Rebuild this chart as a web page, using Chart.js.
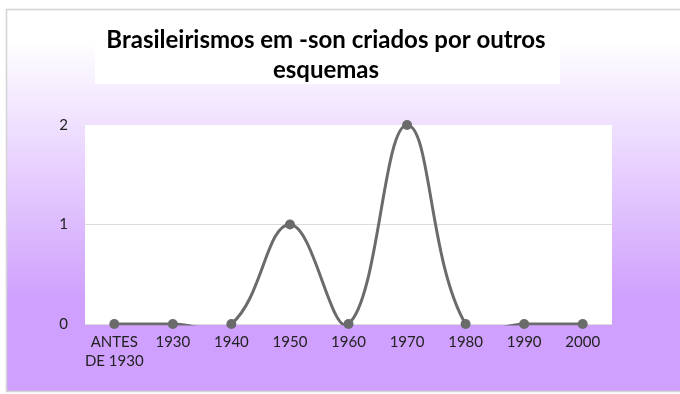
<!DOCTYPE html>
<html>
<head>
<meta charset="utf-8">
<script src="https://cdn.jsdelivr.net/npm/chart.js@4/dist/chart.umd.min.js"></script>
<style>
  html, body { margin: 0; padding: 0; background: #ffffff; }
  #wrap { width: 680px; height: 394px; position: relative; }
</style>
</head>
<body>
<div id="wrap"><canvas id="c" width="680" height="394"></canvas></div>
<script>
// Decades and the number of brasileirismos created by other schemes
const categories = [["ANTES", "DE 1930"], "1930", "1940", "1950", "1960", "1970", "1980", "1990", "2000"];
const counts = [0, 0, 0, 1, 0, 2, 0, 0, 0];
const yTicks = [0, 1, 2];
const titleLines = ["Brasileirismos em -son criados por outros", "esquemas"];

const LINE = '#6b6b6b';
const FONT = 'Lato, "Open Sans", sans-serif';

// Frame, gradient backdrop, title box and white plot area
const backdrop = {
  id: 'backdrop',
  beforeDraw(chart) {
    const { ctx, chartArea: a } = chart;
    ctx.save();
    const g = ctx.createLinearGradient(0, 40, 0, 300);
    g.addColorStop(0, '#ffffff');
    g.addColorStop(1, '#cfa0fd');
    ctx.fillStyle = g;
    ctx.fillRect(7, 10, 690, 381);
    ctx.strokeStyle = '#d4d4d4';
    ctx.lineWidth = 1.5;
    ctx.strokeRect(6.5, 9.5, 690, 382);

    ctx.fillStyle = '#ffffff';
    ctx.fillRect(95, 21, 465, 63);
    ctx.fillStyle = '#000000';
    ctx.font = 'bold 24px ' + FONT;
    ctx.textAlign = 'center';
    ctx.textBaseline = 'middle';
    ctx.fillText(titleLines[0], 326, 40);
    ctx.fillText(titleLines[1], 326, 70);

    ctx.fillStyle = '#ffffff';
    ctx.fillRect(a.left, a.top, a.right - a.left, a.bottom - a.top);
    ctx.restore();
  }
};

new Chart(document.getElementById('c'), {
  type: 'line',
  data: {
    labels: categories,
    datasets: [
      {
        data: counts,
        borderColor: LINE,
        borderWidth: 3,
        tension: 0.4,
        capBezierPoints: false,
        pointRadius: 0,
        pointHoverRadius: 0,
        clip: { left: 10, right: 10, top: 10, bottom: 1.5 }
      },
      {
        data: counts,
        showLine: false,
        pointRadius: 5,
        pointBackgroundColor: LINE,
        pointBorderColor: LINE,
        pointBorderWidth: 0,
        clip: false
      }
    ]
  },
  options: {
    responsive: false,
    animation: false,
    events: [],
    elements: { line: { capBezierPoints: false } },
    layout: { padding: { left: 0, right: 68, top: 125, bottom: 0 } },
    plugins: { legend: { display: false }, tooltip: { enabled: false }, title: { display: false } },
    scales: {
      x: {
        offset: true,
        grid: { display: false, drawTicks: false },
        border: { display: false },
        ticks: {
          color: '#222222',
          padding: 8,
          maxRotation: 0,
          autoSkip: false,
          font: { family: FONT, size: 15, lineHeight: 1.3 }
        },
        afterFit(s) { s.height = 70; }
      },
      y: {
        min: 0,
        max: 2,
        grid: {
          drawTicks: false,
          color: (c) => (c.tick && c.tick.value === 2 ? 'rgba(0,0,0,0)' : '#dcdcdc'),
          lineWidth: 1
        },
        border: { display: false },
        afterBuildTicks(s) { s.ticks = yTicks.map(v => ({ value: v })); },
        ticks: {
          color: '#222222',
          padding: 17,
          font: { family: FONT, size: 15 }
        },
        afterFit(s) { s.width = 85; }
      }
    }
  },
  plugins: [backdrop]
});
</script>
</body>
</html>
